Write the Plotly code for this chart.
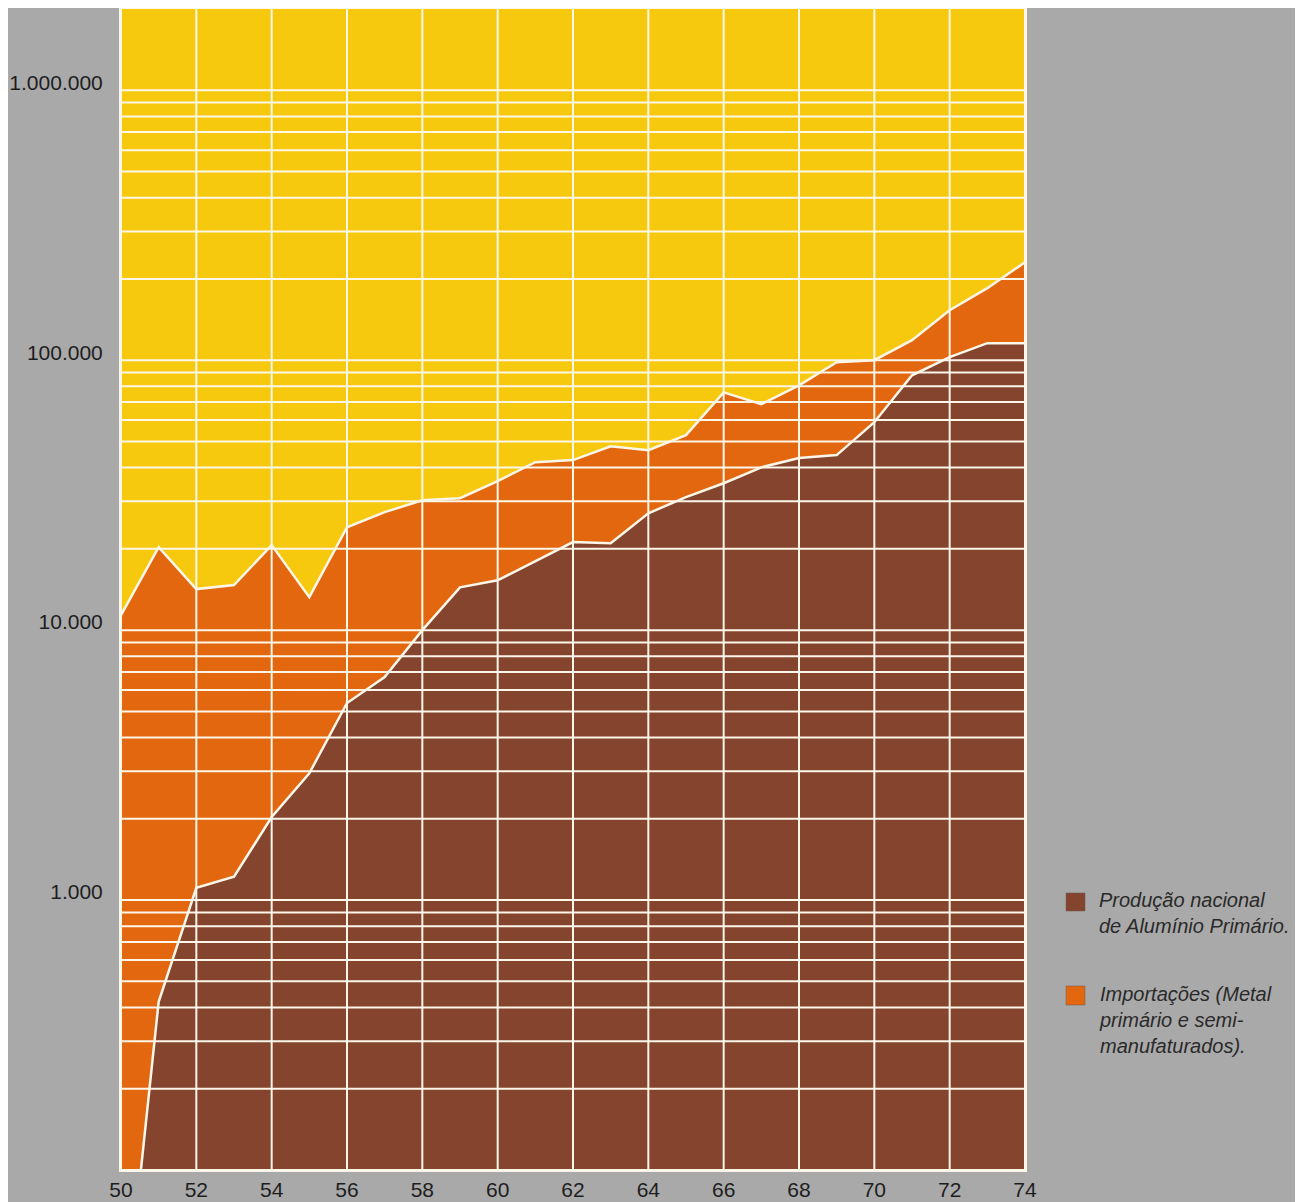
import plotly.graph_objects as go

# ---- data ----
years = [50, 51, 52, 53, 54, 55, 56, 57, 58, 59, 60, 61, 62,
         63, 64, 65, 66, 67, 68, 69, 70, 71, 72, 73, 74]
# Produção nacional de Alumínio Primário (t)
production = [20, 420, 1110, 1220, 2030, 2950, 5370, 6700, 10000, 14400,
              15300, 18000, 21200, 21000, 27100, 31100, 35000, 40100,
              43400, 44500, 58900, 87900, 102600, 115600, 115600]
# Importações (Metal primário e semi-manufaturados) (t)
imports = [11350, 19870, 13080, 13470, 18620, 10300, 18680, 20650, 20290,
           16400, 20340, 23900, 21440, 27000, 19300, 21650, 41000, 28600,
           37300, 53800, 41100, 30700, 50500, 69200, 115100]

x_tick_years = [50, 52, 54, 56, 58, 60, 62, 64, 66, 68, 70, 72, 74]
x_tick_text = ["50", "52", "54", "56", "58", "60", "62", "64", "66", "68", "70", "72", "74"]
y_tick_vals = [1000, 10000, 100000, 1000000]
y_tick_text = ["1.000", "10.000", "100.000", "1.000.000"]

legend_labels = [
    "<i>Produção nacional<br>de Alumínio Primário.</i>",
    "<i>Importações (Metal<br>primário e semi-<br>manufaturados).</i>",
]

# ---- styles ----
BG = "#a9a9a9"
YELLOW = "#f6c80e"
ORANGE = "#e2670f"
BROWN = "#84442d"
WHITE = "#fdf7ea"
TEXT = "#1e1e1e"
FONT = "Liberation Sans, Arial, sans-serif"

total = [p + i for p, i in zip(production, imports)]

fig = go.Figure()
fig.add_trace(go.Scatter(
    x=years, y=production, mode="lines", fill="tozeroy",
    fillcolor=BROWN, line=dict(color=WHITE, width=2.5),
    name="Produção nacional", showlegend=False, hoverinfo="x+y"))
fig.add_trace(go.Scatter(
    x=years, y=total, mode="lines", fill="tonexty",
    fillcolor=ORANGE, line=dict(color=WHITE, width=2.5),
    name="Importações", showlegend=False, hoverinfo="x+y"))

# grid lines drawn above the filled areas
shapes = []
grid_vals = [m * 10 ** k for k in range(2, 6) for m in range(1, 10)] + [10 ** 6]
for v in grid_vals:
    shapes.append(dict(type="line", layer="above", xref="x domain", yref="y",
                       x0=0, x1=1, y0=v, y1=v,
                       line=dict(color=WHITE, width=2)))
for yr in x_tick_years:
    shapes.append(dict(type="line", layer="above", xref="x", yref="y domain",
                       x0=yr, x1=yr, y0=0, y1=1,
                       line=dict(color=WHITE, width=2)))

# legend swatches (paper coordinates)
legend_colors = [BROWN, ORANGE]
sw_y = [(0.2231, 0.2386), (0.1421, 0.1585)]
for c, (y0, y1) in zip(legend_colors, sw_y):
    shapes.append(dict(type="rect", xref="paper", yref="paper",
                       x0=1.0454, x1=1.0664, y0=y0, y1=y1,
                       fillcolor=c, line=dict(color="#6a5a50", width=0.5)))

annotations = []
txt_y = [0.2440, 0.1630]
for lab, ty in zip(legend_labels, txt_y):
    annotations.append(dict(xref="paper", yref="paper", x=1.0796, y=ty,
                            xanchor="left", yanchor="top", align="left",
                            text=lab, showarrow=False,
                            font=dict(family=FONT, size=20, color="#2a2a2a")))

fig.update_layout(
    width=1295, height=1194,
    template="none",
    paper_bgcolor=BG, plot_bgcolor=YELLOW,
    margin=dict(l=113, r=278, t=1, b=32, pad=0),
    showlegend=False,
    shapes=shapes, annotations=annotations,
    xaxis=dict(range=[50, 74], tickvals=x_tick_years, ticktext=x_tick_text,
               showgrid=False, zeroline=False, ticks="",
               showline=True, mirror=True, linecolor=WHITE, linewidth=2,
               layer="above traces", automargin=False,
               ticklabelstandoff=0,
               tickfont=dict(family=FONT, size=21, color=TEXT)),
    yaxis=dict(type="log", range=[2, 6.30103], tickvals=y_tick_vals,
               ticktext=y_tick_text, showgrid=False, zeroline=False, ticks="",
               showline=True, mirror=True, linecolor=WHITE, linewidth=2,
               layer="above traces", automargin=False,
               ticklabelstandoff=12, ticklabelshift=-8,
               tickfont=dict(family=FONT, size=21, color=TEXT)),
)

fig.write_html("out.html")
